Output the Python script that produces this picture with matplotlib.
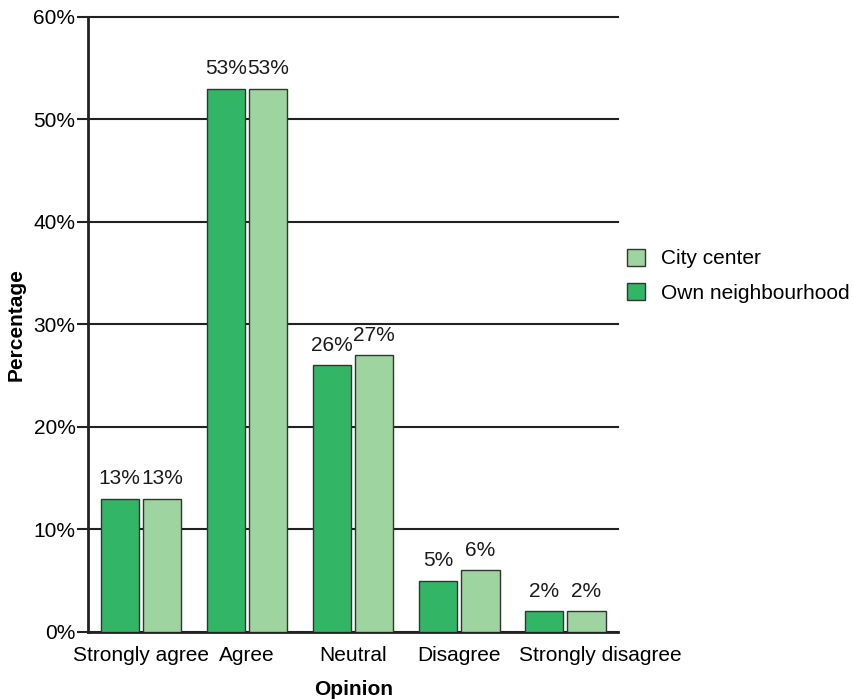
import numpy as np
import matplotlib.pyplot as plt
import matplotlib.transforms as mtransforms

plt.rcParams['font.family'] = ['Liberation Sans', 'DejaVu Sans']

categories = ['Strongly agree', 'Agree', 'Neutral', 'Disagree', 'Strongly disagree']
own = [13, 53, 26, 5, 2]
city = [13, 53, 27, 6, 2]

fig = plt.figure(figsize=(8.54, 6.99), dpi=100)
ax = fig.add_axes([0.103, 0.096, 0.621, 0.880])

x = np.arange(len(categories))
w = 0.36
gap = 0.02
b1 = ax.bar(x - w / 2 - gap, own, w, color='#33b566', edgecolor='#333333', linewidth=1,
            label='Own neighbourhood', zorder=3)
b2 = ax.bar(x + w / 2 + gap, city, w, color='#9ed4a0', edgecolor='#333333', linewidth=1,
            label='City center', zorder=3)
for bars in (b1, b2):
    for r in bars:
        ax.text(r.get_x() + r.get_width() / 2, r.get_height() + 1.0, '%d%%' % r.get_height(),
                ha='center', va='bottom', fontsize=15, color='#1a1a1a')

ax.set_xlim(-0.5, 4.5)
ax.set_ylim(0, 60)
ax.set_yticks(range(0, 61, 10))
ax.set_yticklabels(['%d%%' % v for v in range(0, 61, 10)])
ax.set_xticks(x)
ax.set_xticklabels(categories)
ax.tick_params(axis='y', labelsize=15, length=8, width=1.5, color='#222222', pad=1)
ax.tick_params(axis='x', labelsize=15, length=0, pad=10)
ax.yaxis.grid(True, color='#222222', linewidth=1.5, zorder=0)
for line in ax.get_ygridlines():
    line.set_clip_on(False)
for s in ['top', 'right']:
    ax.spines[s].set_visible(False)
for s in ['left', 'bottom']:
    ax.spines[s].set_linewidth(2)
    ax.spines[s].set_color('#222222')

# last label sits a bit to the right so it does not run into "Disagree"
last = ax.get_xticklabels()[-1]
last.set_transform(last.get_transform() + mtransforms.ScaledTranslation(0.35, 0, fig.dpi_scale_trans))

ax.set_ylabel('Percentage', fontsize=15, fontweight='bold', labelpad=6)
ax.set_xlabel('Opinion', fontsize=15, fontweight='bold', labelpad=11)

h, l = ax.get_legend_handles_labels()
ax.legend(h[::-1], l[::-1], loc='center left', bbox_to_anchor=(1.0, 0.579), frameon=False,
          fontsize=15, handlelength=0.87, handleheight=0.87, handletextpad=0.8,
          labelspacing=0.7, borderpad=0.2, borderaxespad=0.2)

plt.savefig('out.png', dpi=100)
